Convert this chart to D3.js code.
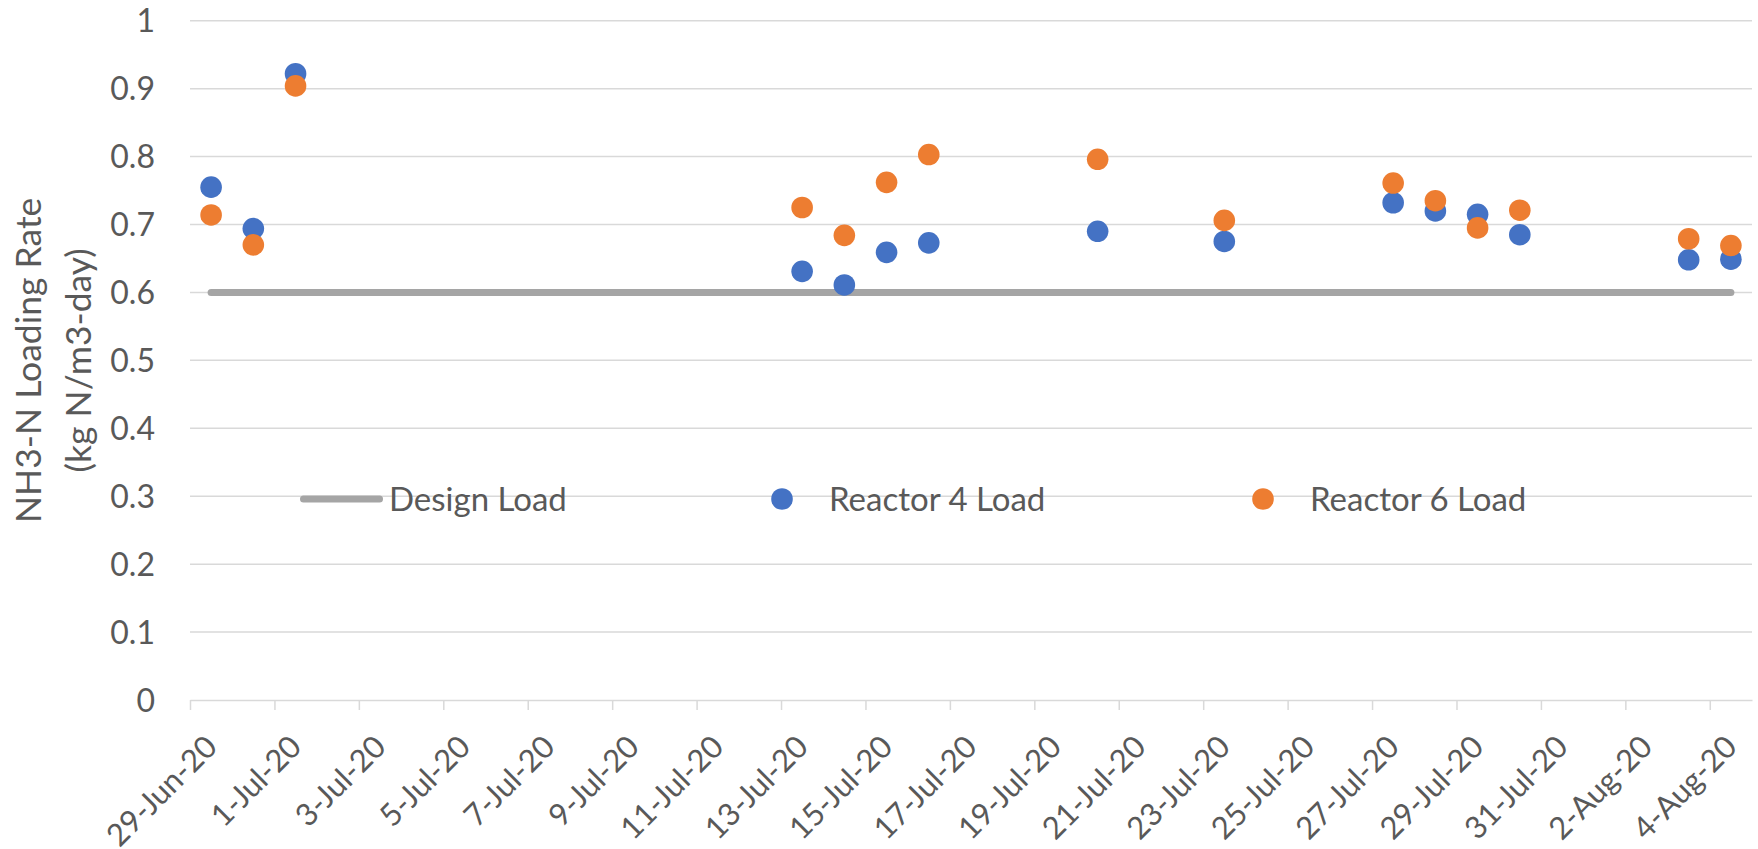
<!DOCTYPE html>
<html>
<head>
<meta charset="utf-8">
<script src="https://cdn.jsdelivr.net/npm/d3@7"></script>
<style>
  body { margin: 0; background: #fff; }
  text { font-family: Lato, "Open Sans", sans-serif; fill: #595959; }
</style>
</head>
<body>
<div id="chart"></div>
<script>
// sample dates and loads
const sampleDates = ["29-Jun-20", "30-Jun-20", "1-Jul-20", "13-Jul-20", "14-Jul-20", "15-Jul-20", "16-Jul-20",
    "20-Jul-20", "23-Jul-20", "27-Jul-20", "28-Jul-20", "29-Jul-20", "30-Jul-20", "3-Aug-20", "4-Aug-20"];
const reactor4Load = [0.755, 0.694, 0.922, 0.631, 0.611, 0.659, 0.673, 0.690, 0.675, 0.732, 0.720, 0.715, 0.685, 0.648, 0.649];
const reactor6Load = [0.714, 0.670, 0.904, 0.725, 0.684, 0.762, 0.803, 0.796, 0.706, 0.761, 0.735, 0.695, 0.721, 0.679, 0.669];
const designDates = ["29-Jun-20", "4-Aug-20"];
const designLoad = [0.6, 0.6];

const xTickLabels = ["29-Jun-20", "1-Jul-20", "3-Jul-20", "5-Jul-20", "7-Jul-20", "9-Jul-20", "11-Jul-20", "13-Jul-20",
    "15-Jul-20", "17-Jul-20", "19-Jul-20", "21-Jul-20", "23-Jul-20", "25-Jul-20", "27-Jul-20", "29-Jul-20",
    "31-Jul-20", "2-Aug-20", "4-Aug-20"];
const yTicks = [0, 0.1, 0.2, 0.3, 0.4, 0.5, 0.6, 0.7, 0.8, 0.9, 1];
const legendNames = ["Design Load", "Reactor 4 Load", "Reactor 6 Load"];
const yTitle = ["NH3-N Loading Rate", "(kg N/m3-day)"];

const width = 1758, height = 849;
const plotLeft = 190, plotRight = 1752, plotTop = 20.7, plotBottom = 700;
const colors = { design: "#A5A5A5", r4: "#4472C4", r6: "#ED7D31" };

const parse = d3.utcParse("%d-%b-%y");
const fmt = d3.utcFormat("%-d-%b-%y");

const firstDay = parse(xTickLabels[0]);
const lastDay = parse(sampleDates[sampleDates.length - 1]);

// Excel date axis: each day is a band, marks sit in the middle of it
const x = d3.scaleUtc()
    .domain([firstDay, d3.utcDay.offset(lastDay, 1)])
    .range([plotLeft, plotRight]);
const mid = d => x(d3.utcHour.offset(d, 12));

const y = d3.scaleLinear()
    .domain([0, 1])
    .range([plotBottom, plotTop]);

const svg = d3.select("#chart")
    .append("svg")
    .attr("width", width)
    .attr("height", height);

// gridlines
svg.append("g")
    .selectAll("line")
    .data(yTicks.filter(d => d > 0))
    .enter().append("line")
    .attr("x1", plotLeft)
    .attr("x2", plotRight)
    .attr("y1", d => y(d))
    .attr("y2", d => y(d))
    .attr("stroke", "#D9D9D9")
    .attr("stroke-width", 1.5);

// y axis labels
svg.append("g")
    .selectAll("text")
    .data(yTicks)
    .enter().append("text")
    .attr("x", 155)
    .attr("y", d => y(d))
    .attr("dy", "0.36em")
    .attr("text-anchor", "end")
    .attr("font-size", "32px")
    .text(d => d3.format("~g")(d));

// x axis
const xAxis = svg.append("g")
    .attr("transform", `translate(0, ${plotBottom})`)
    .call(d3.axisBottom(x)
        .tickValues(xTickLabels.map(parse))
        .tickSize(10)
        .tickSizeOuter(0)
        .tickFormat(""));
xAxis.select(".domain").attr("stroke", "#D9D9D9").attr("stroke-width", 1.5);
xAxis.selectAll(".tick line").attr("stroke", "#D9D9D9").attr("stroke-width", 1.5);

svg.append("g")
    .selectAll("text")
    .data(xTickLabels.map(parse))
    .enter().append("text")
    .attr("transform", d => `translate(${x(d) + 21}, ${plotBottom + 41}) rotate(-45)`)
    .attr("text-anchor", "end")
    .attr("dy", "0.36em")
    .attr("font-size", "31px")
    .text(d => fmt(d));

// y axis title
svg.append("g")
    .selectAll("text")
    .data(yTitle)
    .enter().append("text")
    .attr("transform", (d, i) => `translate(${41 + i * 50}, ${(plotTop + plotBottom) / 2}) rotate(-90)`)
    .attr("text-anchor", "middle")
    .attr("font-size", "35.5px")
    .text(d => d);

// design load line
const line = d3.line()
    .x(d => mid(d.date))
    .y(d => y(d.value));

svg.append("path")
    .datum(designDates.map((d, i) => ({ date: parse(d), value: designLoad[i] })))
    .attr("d", line)
    .attr("fill", "none")
    .attr("stroke", colors.design)
    .attr("stroke-width", 7)
    .attr("stroke-linecap", "round");

// reactor points
const series = [
    { values: reactor4Load, color: colors.r4 },
    { values: reactor6Load, color: colors.r6 }
];

series.forEach(s => {
    svg.append("g")
        .selectAll("circle")
        .data(sampleDates.map((d, i) => ({ date: parse(d), value: s.values[i] })))
        .enter().append("circle")
        .attr("cx", d => mid(d.date))
        .attr("cy", d => y(d.value))
        .attr("r", 10.8)
        .attr("fill", s.color);
});

// legend
const legendY = 499;
const legend = svg.append("g");

legend.append("line")
    .attr("x1", 303.5)
    .attr("x2", 379.5)
    .attr("y1", legendY)
    .attr("y2", legendY)
    .attr("stroke", colors.design)
    .attr("stroke-width", 7)
    .attr("stroke-linecap", "round");

legend.append("circle").attr("cx", 782).attr("cy", legendY).attr("r", 10.8).attr("fill", colors.r4);
legend.append("circle").attr("cx", 1263).attr("cy", legendY).attr("r", 10.8).attr("fill", colors.r6);

legend.selectAll("text")
    .data(legendNames)
    .enter().append("text")
    .attr("x", (d, i) => [389, 829, 1310][i])
    .attr("y", legendY)
    .attr("dy", "0.36em")
    .attr("font-size", "33px")
    .text(d => d);
</script>
</body>
</html>
